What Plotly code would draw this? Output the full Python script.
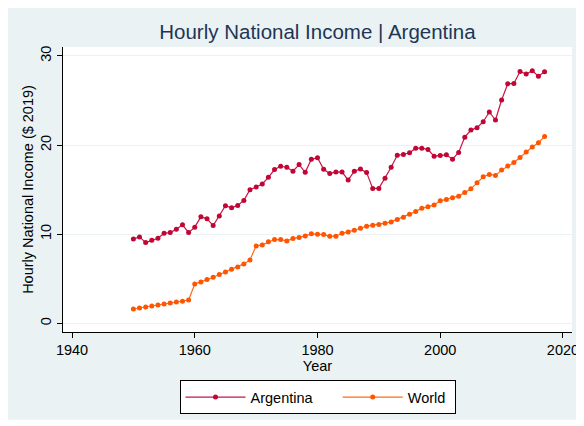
import plotly.graph_objects as go

years = list(range(1950, 2018))

argentina = [
    9.47, 9.70, 9.06, 9.32, 9.55, 10.11, 10.18, 10.56, 11.05, 10.18,
    10.79, 11.95, 11.72, 10.97, 12.03, 13.19, 12.96, 13.23, 13.79, 14.99,
    15.30, 15.64, 16.38, 17.25, 17.62, 17.51, 17.06, 17.81, 16.95, 18.41,
    18.57, 17.29, 16.80, 16.99, 16.97, 16.09, 17.06, 17.32, 16.91, 15.14,
    15.14, 16.27, 17.51, 18.86, 18.94, 19.13, 19.65, 19.65, 19.50, 18.75,
    18.83, 18.90, 18.41, 19.17, 20.89, 21.68, 21.95, 22.62, 23.71, 22.81,
    25.06, 26.87, 26.91, 28.26, 27.96, 28.33, 27.73, 28.22,
]

world = [
    1.61, 1.72, 1.83, 1.94, 2.06, 2.17, 2.28, 2.39, 2.47, 2.62,
    4.42, 4.64, 4.91, 5.17, 5.47, 5.77, 6.07, 6.33, 6.67, 7.12,
    8.69, 8.80, 9.14, 9.40, 9.40, 9.25, 9.51, 9.63, 9.81, 10.04,
    10.00, 9.96, 9.78, 9.78, 10.10, 10.26, 10.45, 10.67, 10.90, 11.01,
    11.09, 11.24, 11.38, 11.65, 11.91, 12.25, 12.54, 12.92, 13.07, 13.29,
    13.74, 13.89, 14.08, 14.27, 14.68, 15.09, 15.76, 16.44, 16.70, 16.59,
    17.19, 17.64, 18.05, 18.61, 19.21, 19.78, 20.26, 20.97,
]

x_ticks = [1940, 1960, 1980, 2000, 2020]
y_ticks = [0, 10, 20, 30]

bg = "#eaf2f3"
font = "Liberation Sans, Arial, sans-serif"
sp = "\u00a0"  # non-breaking spaces pad the legend entries

fig = go.Figure()
fig.add_trace(go.Scatter(
    x=years, y=argentina, name="Argentina" + sp * 5, mode="lines+markers",
    line=dict(color="#c8154a", width=1.2),
    marker=dict(color="#c10534", size=5),
))
fig.add_trace(go.Scatter(
    x=years, y=world, name="World" + sp, mode="lines+markers",
    line=dict(color="#ff6a1a", width=1.2),
    marker=dict(color="#ff5500", size=5),
))

# stata-like background: light outer panel with white plot region
fig.add_shape(type="rect", xref="paper", yref="paper",
              x0=-0.1137, x1=1.0144, y0=-0.3077, y1=1.137,
              fillcolor=bg, line=dict(width=0), layer="below")
fig.add_shape(type="rect", xref="paper", yref="paper",
              x0=0, x1=1, y0=0, y1=1,
              fillcolor="white", line=dict(width=0), layer="below")

# page has an 8px body margin, so the figure is 8px smaller than the window
fig.update_layout(
    width=576, height=418,
    margin=dict(l=55, r=12, t=39, b=92),
    paper_bgcolor="white", plot_bgcolor="white",
    font=dict(family=font, size=14.5, color="black"),
    title=dict(text="Hourly National Income | Argentina", x=0.5373, xanchor="center",
               y=0.9426, yanchor="middle",
               font=dict(size=20.5, color="#1f3556", family=font)),
    showlegend=True,
    legend=dict(orientation="h", x=0.5, xanchor="center", y=-0.169, yanchor="top",
                bordercolor="black", borderwidth=1, bgcolor="white",
                font=dict(size=14.5), itemwidth=60),
)
fig.update_xaxes(
    range=[1938.53, 2021.47], tickvals=x_ticks, showgrid=False, zeroline=False,
    showline=True, linecolor="black", linewidth=1, automargin=False,
    ticks="outside", ticklen=5, tickcolor="black",
    title=dict(text="Year", standoff=0, font=dict(size=14.5)),
)
fig.update_yaxes(
    range=[-0.97, 31.0], tickvals=y_ticks, tickangle=-90,
    showgrid=True, gridcolor=bg, gridwidth=1, zeroline=False,
    showline=True, linecolor="black", linewidth=1, automargin=False,
    ticks="outside", ticklen=5, tickcolor="black",
    title=dict(text="Hourly National Income ($ 2019)", standoff=1, font=dict(size=14.5)),
)

fig.write_html("out.html")
